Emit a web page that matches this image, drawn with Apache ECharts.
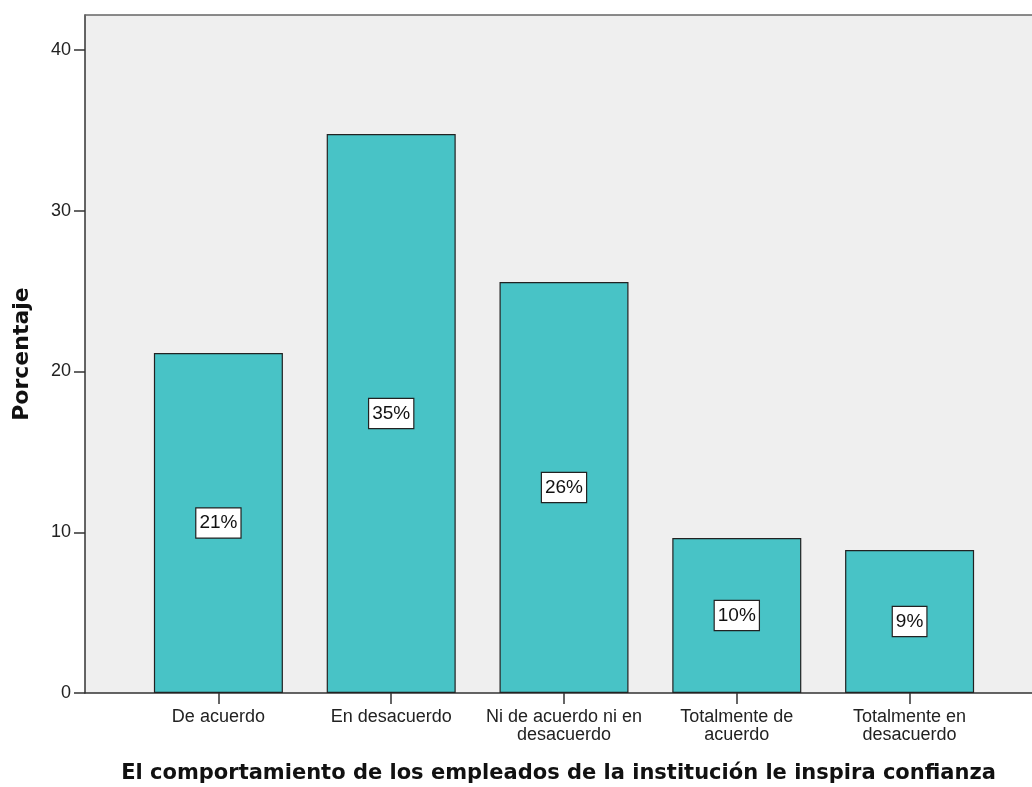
<!DOCTYPE html>
<html>
<head>
<meta charset="utf-8">
<script src="https://cdn.jsdelivr.net/npm/echarts@6/dist/echarts.min.js"></script>
<style>
html,body{margin:0;padding:0;background:#fff;}
#chart{width:1032px;height:787px;}
</style>
</head>
<body>
<div id="chart"></div>
<script>
const categories = ['De acuerdo', 'En desacuerdo', 'Ni de acuerdo ni en\ndesacuerdo', 'Totalmente de\nacuerdo', 'Totalmente en\ndesacuerdo'];
const values = [21.15, 34.78, 25.57, 9.64, 8.90];
const yTicks = [0, 10, 20, 30, 40];
const xTitle = 'El comportamiento de los empleados de la institución le inspira confianza';
const yTitle = 'Porcentaje';

const FONT = '"Liberation Sans", Arial, sans-serif';
const BOLDFONT = '"DejaVu Sans", Verdana, sans-serif';
const yMax = 42.18;

const chart = echarts.init(document.getElementById('chart'), null, {renderer: 'canvas'});
chart.setOption({
  animation: false,
  backgroundColor: '#ffffff',
  textStyle: {fontFamily: FONT},
  grid: [
    {left: 85, right: 0, top: 15, bottom: 94, show: true, backgroundColor: '#EFEFEF', borderWidth: 0, containLabel: false, outerBoundsMode: 'none'},
    {left: 132, right: 36, top: 15, bottom: 94, containLabel: false, outerBoundsMode: 'none'}
  ],
  xAxis: [
    {
      gridIndex: 0, type: 'value', position: 'bottom', min: 0, max: 1,
      axisLine: {show: true, lineStyle: {color: '#333', width: 1.5}},
      axisTick: {show: false}, axisLabel: {show: false}, splitLine: {show: false},
      name: xTitle, nameLocation: 'middle', nameGap: 70,
      nameTextStyle: {fontFamily: BOLDFONT, fontWeight: 'bold', fontSize: 21, color: '#111'}
    },
    {
      gridIndex: 0, type: 'value', position: 'top', min: 0, max: 1,
      axisLine: {show: true, lineStyle: {color: '#666', width: 1.5}},
      axisTick: {show: false}, axisLabel: {show: false}, splitLine: {show: false}
    },
    {
      gridIndex: 1, type: 'category', data: categories, position: 'bottom',
      axisLine: {show: false},
      axisTick: {show: true, alignWithLabel: true, length: 11, lineStyle: {color: '#333', width: 1.5}},
      axisLabel: {fontFamily: FONT, fontSize: 18, color: '#222', margin: 15, lineHeight: 18, interval: 0},
      splitLine: {show: false}
    }
  ],
  yAxis: [
    {
      gridIndex: 0, type: 'value', min: 0, max: yMax, interval: 10,
      axisLine: {show: true, lineStyle: {color: '#333', width: 1.5}},
      axisTick: {show: true, length: 11, lineStyle: {color: '#333', width: 1.5}, customValues: yTicks},
      axisLabel: {fontFamily: FONT, fontSize: 18, color: '#222', margin: 14, customValues: yTicks},
      splitLine: {show: false},
      name: yTitle, nameLocation: 'middle', nameRotate: 90, nameGap: 52,
      nameTextStyle: {fontFamily: BOLDFONT, fontWeight: 'bold', fontSize: 22, color: '#111'}
    },
    {
      gridIndex: 1, type: 'value', min: 0, max: yMax, show: false
    }
  ],
  series: [{
    type: 'bar',
    xAxisIndex: 2, yAxisIndex: 1,
    data: values,
    barWidth: 129,
    itemStyle: {color: '#48C3C6', borderColor: '#222', borderWidth: 1.2},
    label: {
      show: true, position: 'inside',
      formatter: p => Math.round(p.value) + '%',
      fontFamily: FONT, fontSize: 19, color: '#111',
      backgroundColor: '#ffffff', borderColor: '#222', borderWidth: 1.2,
      padding: [6, 3, 4, 3]
    }
  }]
});
</script>
</body>
</html>
